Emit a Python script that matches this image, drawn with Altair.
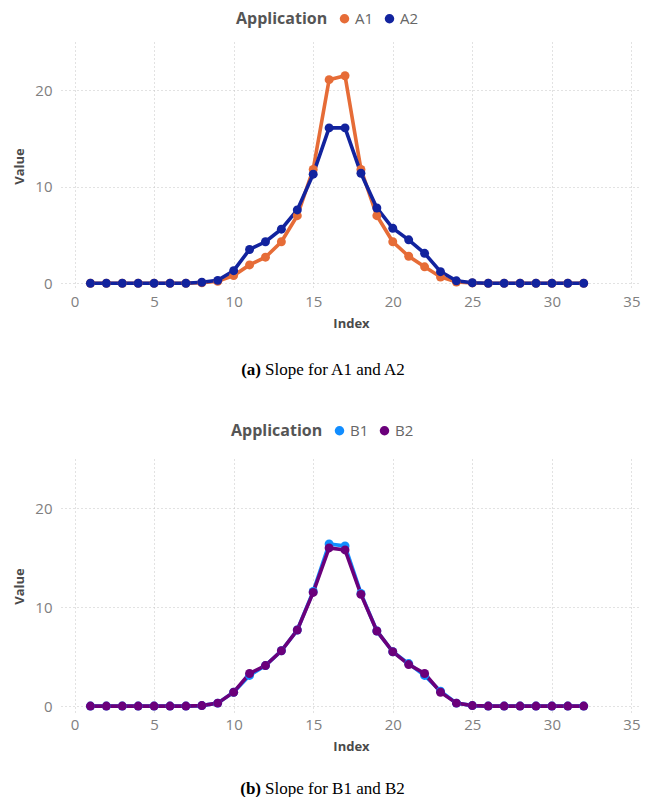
import altair as alt
import pandas as pd

index = list(range(1, 33))

series_a_names = ["A1", "A2"]
a1 = [0, 0, 0, 0, 0, 0, 0, 0.05, 0.2, 0.8, 1.9, 2.7, 4.3, 7.0, 11.8, 21.1,
      21.5, 11.8, 7.0, 4.3, 2.8, 1.7, 0.65, 0.12, 0.03, 0, 0, 0, 0, 0, 0, 0]
a2 = [0, 0, 0, 0, 0, 0, 0, 0.1, 0.3, 1.3, 3.5, 4.3, 5.6, 7.6, 11.3, 16.1,
      16.1, 11.4, 7.8, 5.7, 4.5, 3.1, 1.2, 0.25, 0.05, 0, 0, 0, 0, 0, 0, 0]

series_b_names = ["B1", "B2"]
b1 = [0, 0, 0, 0, 0, 0, 0, 0.05, 0.3, 1.4, 3.1, 4.1, 5.6, 7.7, 11.6, 16.4,
      16.2, 11.4, 7.6, 5.5, 4.3, 3.1, 1.5, 0.3, 0.05, 0, 0, 0, 0, 0, 0, 0]
b2 = [0, 0, 0, 0, 0, 0, 0, 0.05, 0.3, 1.4, 3.3, 4.1, 5.6, 7.7, 11.5, 16.0,
      15.8, 11.3, 7.6, 5.5, 4.2, 3.3, 1.4, 0.3, 0.05, 0, 0, 0, 0, 0, 0, 0]

x_ticks = [0, 5, 10, 15, 20, 25, 30, 35]
y_ticks = [0, 10, 20]

FONT = "Open Sans"
SERIF = "Liberation Serif"
W = 580


def panel(s1, s2, names, colors, h, tag, caption, legend_x, legend_y, cap_y):
    df = pd.DataFrame({
        "Index": index * 2,
        "Value": s1 + s2,
        "Application": [names[0]] * len(index) + [names[1]] * len(index),
    })
    x = alt.X("Index:Q",
              scale=alt.Scale(domain=[-0.85, 35.6], nice=False, zero=False),
              axis=alt.Axis(values=x_ticks, title="Index", labelPadding=4,
                            titlePadding=8))
    y = alt.Y("Value:Q",
              scale=alt.Scale(domain=[-0.7, 25], nice=False, zero=False),
              axis=alt.Axis(values=y_ticks, title="Value", labelPadding=9,
                            titlePadding=8))
    leg = alt.Legend(orient="none", legendX=legend_x, legendY=legend_y,
                     direction="horizontal", titleOrient="left",
                     symbolType="circle", symbolFillColor=None)
    color = alt.Color("Application:N",
                      scale=alt.Scale(domain=names, range=colors),
                      legend=leg)
    base = alt.Chart(df)
    line = base.mark_line(strokeWidth=3.6).encode(x=x, y=y, color=color)
    pts = base.mark_circle(size=80, opacity=1).encode(x=x, y=y, color=color)
    cap_df = pd.DataFrame({"tag": [tag], "cap": [caption]})
    cap_tag = alt.Chart(cap_df).mark_text(
        font=SERIF, fontSize=17, fontWeight="bold", align="right",
        baseline="middle", color="#000").encode(
        x=alt.value(200), y=alt.value(cap_y), text="tag:N")
    cap_txt = alt.Chart(cap_df).mark_text(
        font=SERIF, fontSize=17, align="left", baseline="middle",
        color="#000").encode(
        x=alt.value(204), y=alt.value(cap_y), text="cap:N")
    return alt.layer(line, pts, cap_tag, cap_txt).properties(width=W, height=h)


top = panel(a1, a2, series_a_names, ["#E66C37", "#12239E"], 248,
            "(a)", "Slope for A1 and A2", 175, -31, 328)
bottom = panel(b1, b2, series_b_names, ["#118DFF", "#6B007B"], 254,
               "(b)", "Slope for B1 and B2", 170, -36, 330)

chart = alt.vconcat(top, bottom, spacing=45).resolve_scale(
    color="independent").properties(
    padding={"left": 5, "top": 3, "right": 0, "bottom": 0}
).configure_view(stroke=None).configure_axis(
    domain=False, ticks=False, grid=True, gridDash=[1, 3],
    gridColor="#c4c4c4", gridWidth=1,
    labelFont=FONT, labelFontSize=15, labelColor="#808080",
    titleFont=FONT, titleFontSize=13, titleFontWeight="bold",
    titleColor="#4a4a4a"
).configure_legend(
    titleFont=FONT, titleFontSize=16, titleFontWeight="bold",
    titleColor="#555555", labelFont=FONT, labelFontSize=15,
    labelColor="#666666", symbolType="circle", symbolSize=90,
    symbolStrokeWidth=0, titlePadding=9, labelOffset=3, columnPadding=8,
    padding=0
)

chart.save("out.html", embed_options={"renderer": "svg", "actions": False})
